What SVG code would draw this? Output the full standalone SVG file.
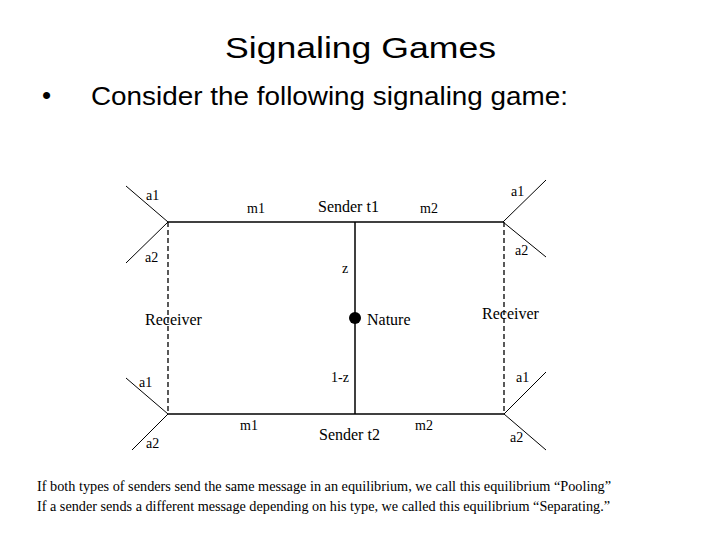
<svg xmlns="http://www.w3.org/2000/svg" width="720" height="540" viewBox="0 0 720 540">
<style>
.t{font-family:"Liberation Serif","Times New Roman",serif;font-size:16px;fill:#000}
.l{font-family:"Liberation Serif","Times New Roman",serif;font-size:14px;fill:#000}
.s{font-family:"Liberation Sans",Arial,sans-serif;fill:#000}
.b{font-family:"Liberation Serif","Times New Roman",serif;font-size:15px;fill:#000}
.ln{stroke:#000;stroke-width:1;fill:none}
.th{stroke:#000;stroke-width:1.5;fill:none}
.d{stroke:#000;stroke-width:1.3;stroke-dasharray:5,3;fill:none}
</style>
<rect width="720" height="540" fill="#fff"/>
<text class="s" x="225" y="58" font-size="30" textLength="271" lengthAdjust="spacingAndGlyphs">Signaling Games</text>
<text class="s" x="42" y="104" font-size="26">•</text>
<text class="s" x="91" y="105" font-size="26" textLength="477" lengthAdjust="spacingAndGlyphs">Consider the following signaling game:</text>
<g id="connectors">
<line class="th" x1="168" y1="222" x2="503" y2="222"/>
<line class="th" x1="168" y1="414" x2="504" y2="414"/>
<line class="th" x1="355" y1="222" x2="355" y2="414"/>
<line class="d" x1="168" y1="222" x2="168" y2="414"/>
<line class="d" x1="504" y1="222" x2="504" y2="414"/>
<line class="ln" x1="126" y1="186" x2="168" y2="222"/>
<line class="ln" x1="168" y1="222" x2="126" y2="263"/>
<line class="ln" x1="503" y1="222" x2="546" y2="180"/>
<line class="ln" x1="503" y1="222" x2="546" y2="257"/>
<line class="ln" x1="126" y1="378" x2="168" y2="414"/>
<line class="ln" x1="168" y1="414" x2="132" y2="450"/>
<line class="ln" x1="504" y1="414" x2="546" y2="372"/>
<line class="ln" x1="504" y1="414" x2="546" y2="450"/>
</g>
<g id="nature"><circle cx="355" cy="318" r="6" fill="#000"/><text class="t" x="367" y="325">Nature</text></g>
<g id="sender-t1"><text class="t" x="318" y="212">Sender t1</text></g>
<g id="sender-t2"><text class="t" x="319" y="440">Sender t2</text></g>
<g id="receiver-left"><text class="t" x="145" y="325">Receiver</text></g>
<g id="receiver-right"><text class="t" x="482" y="319">Receiver</text></g>
<g id="labels">
<text class="l" x="146" y="200">a1</text>
<text class="l" x="145" y="262">a2</text>
<text class="l" x="247" y="213">m1</text>
<text class="l" x="420" y="213">m2</text>
<text class="l" x="511" y="196">a1</text>
<text class="l" x="515" y="255">a2</text>
<text class="l" x="342" y="273">z</text>
<text class="l" x="331" y="382">1-z</text>
<text class="l" x="139" y="387">a1</text>
<text class="l" x="516" y="382">a1</text>
<text class="l" x="240" y="430">m1</text>
<text class="l" x="415" y="430">m2</text>
<text class="l" x="146" y="448">a2</text>
<text class="l" x="510" y="442">a2</text>
</g>
<text class="b" x="37" y="491" textLength="574" lengthAdjust="spacingAndGlyphs">If both types of senders send the same message in an equilibrium, we call this equilibrium “Pooling”</text>
<text class="b" x="37" y="511" textLength="573" lengthAdjust="spacingAndGlyphs">If a sender sends a different message depending on his type, we called this equilibrium “Separating.”</text>
</svg>
